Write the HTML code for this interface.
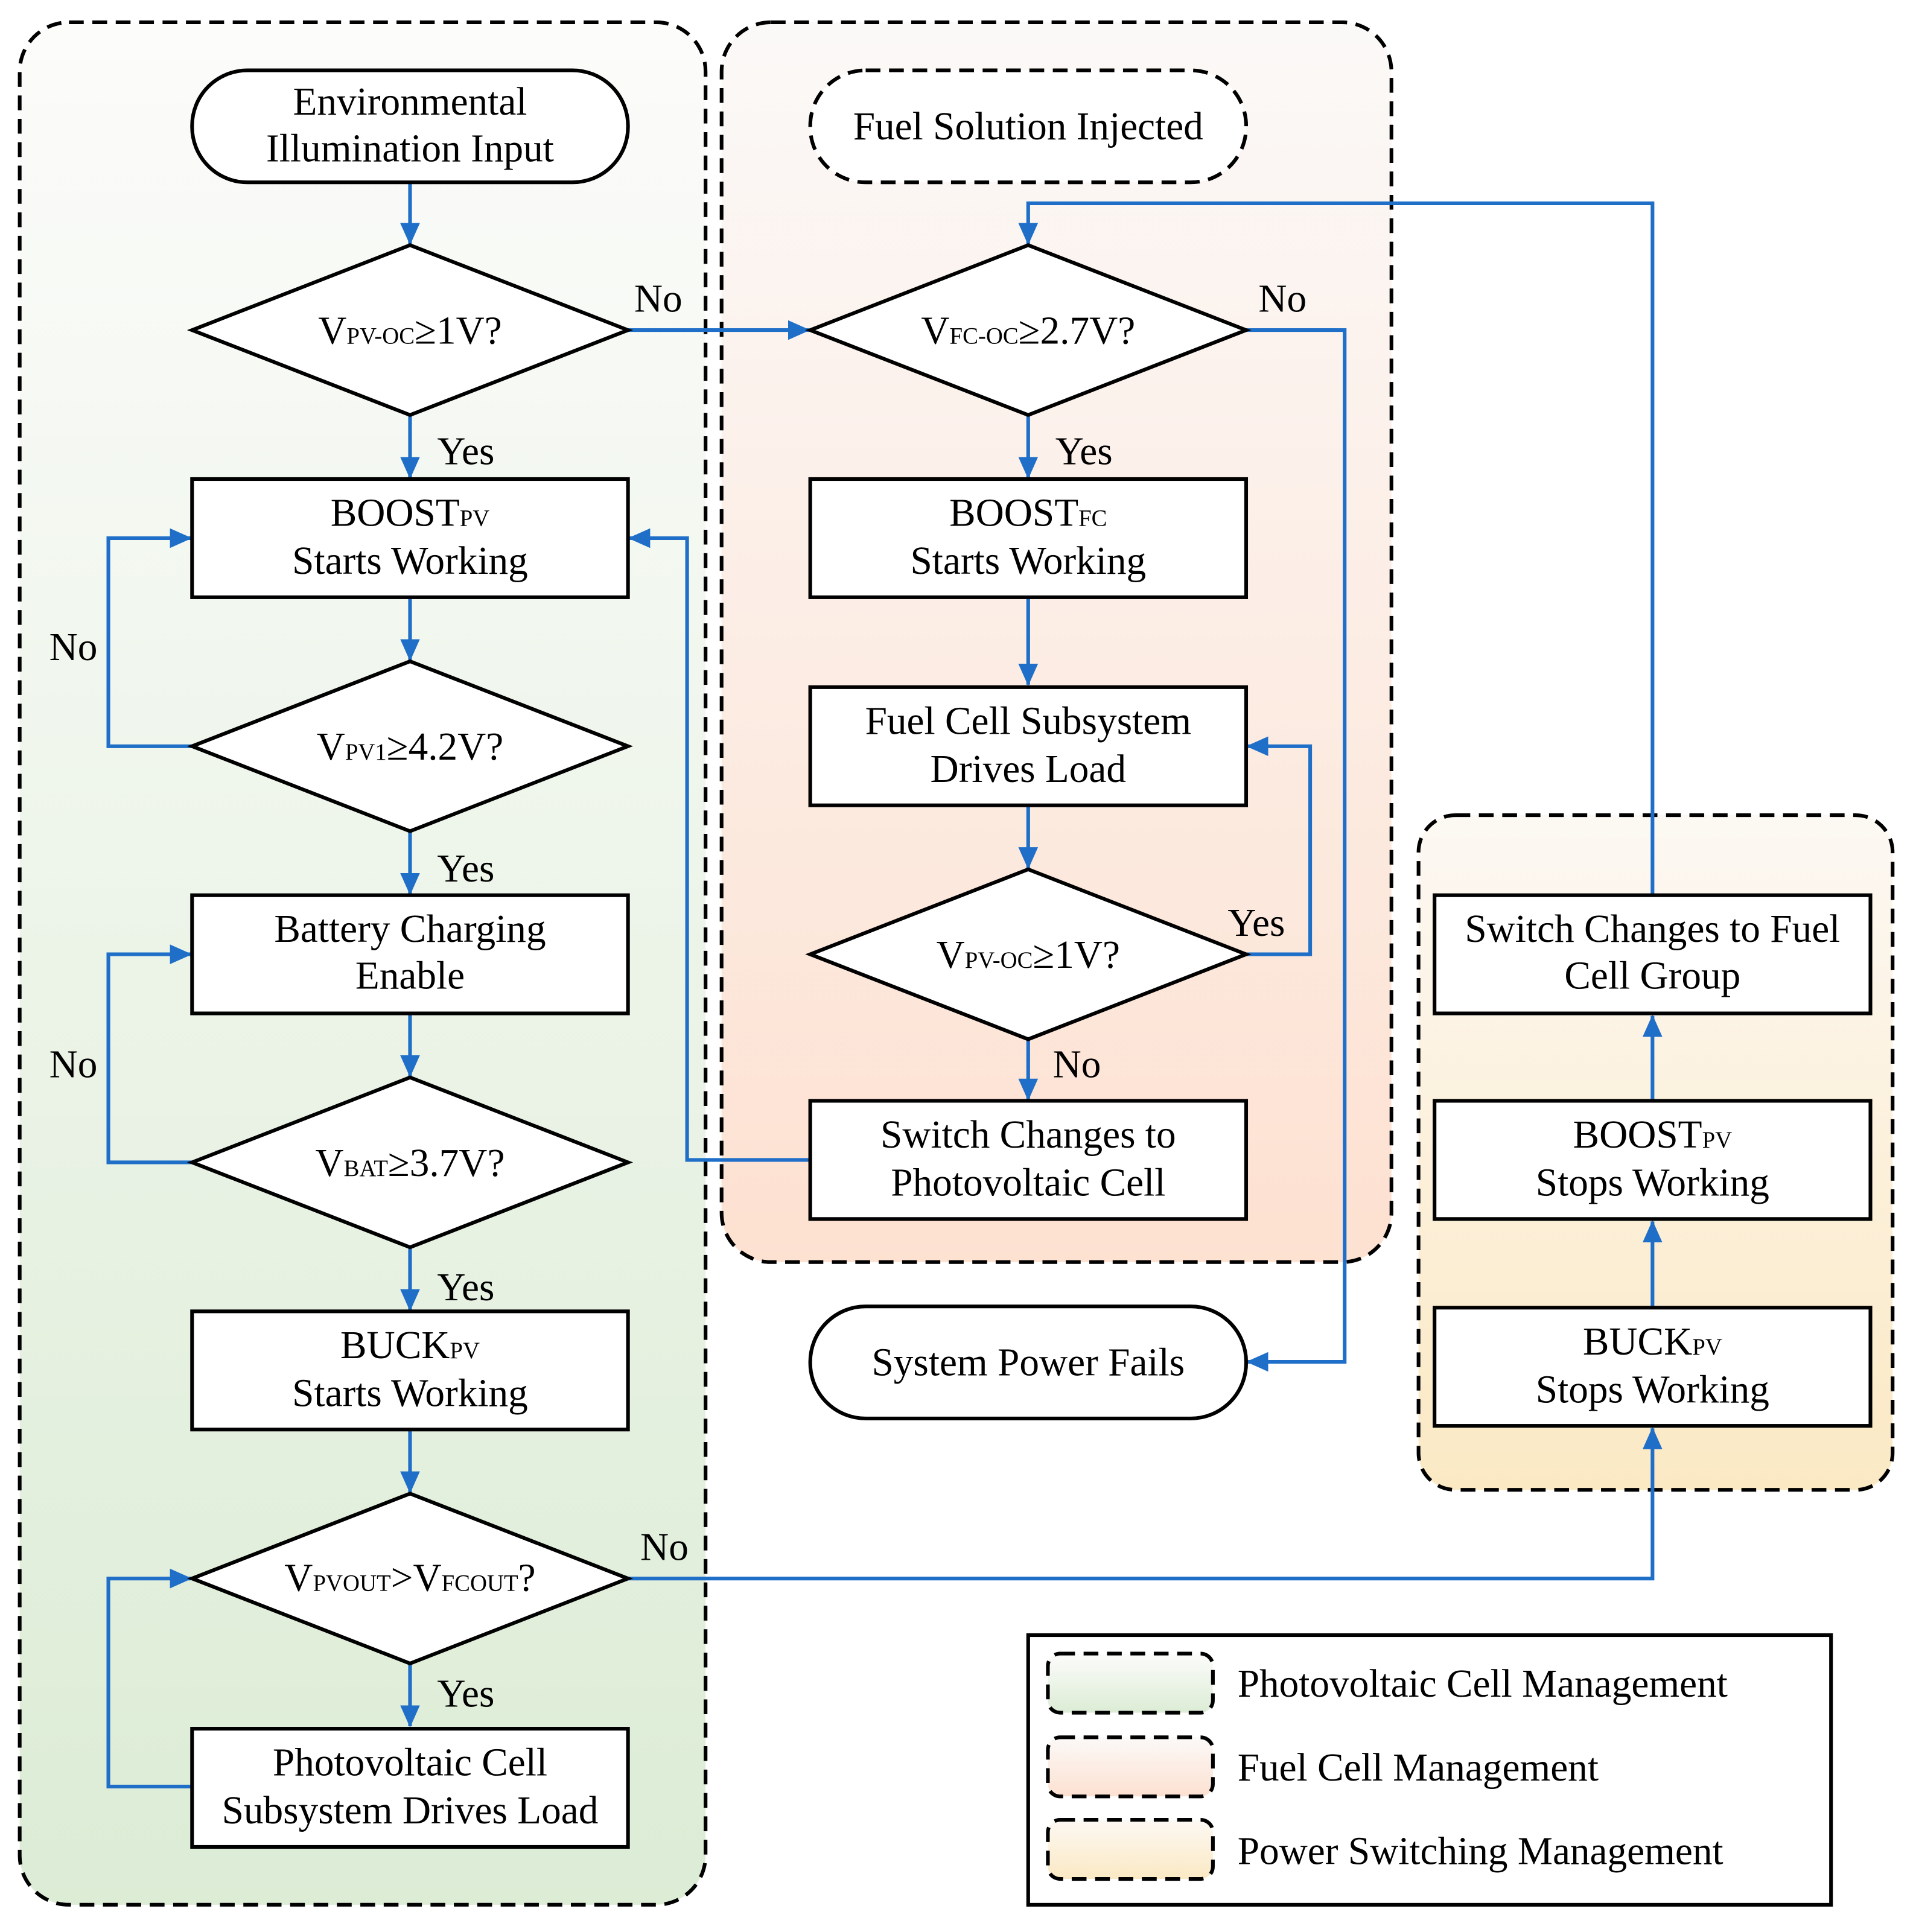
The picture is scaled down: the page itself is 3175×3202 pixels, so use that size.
<!DOCTYPE html>
<html><head><meta charset="utf-8"><style>html,body{margin:0;padding:0;background:#fff}svg{display:block}</style></head>
<body>
<svg width="3175" height="3202" viewBox="0 0 1556 1569" xmlns="http://www.w3.org/2000/svg" font-family="'Liberation Serif', serif" font-size="32">
<defs>
<linearGradient id="gG" x1="0" y1="0" x2="0" y2="1"><stop offset="0" stop-color="#fcfcfb"/><stop offset="1" stop-color="#dcecd5"/></linearGradient>
<linearGradient id="gO" x1="0" y1="0" x2="0" y2="1"><stop offset="0" stop-color="#fbf9f8"/><stop offset="1" stop-color="#fde1d1"/></linearGradient>
<linearGradient id="gY" x1="0" y1="0" x2="0" y2="1"><stop offset="0" stop-color="#fcf8f3"/><stop offset="1" stop-color="#fbe9c4"/></linearGradient>
<marker id="a" markerWidth="18" markerHeight="16" refX="17" refY="8" orient="auto" markerUnits="userSpaceOnUse" viewBox="0 0 18 16"><path d="M0,0 L18,8 L0,16 z" fill="#1f6fc8"/></marker>
</defs>
<style>
.p{stroke:#000;stroke-width:3;stroke-dasharray:12 7}
.s{fill:#fff;stroke:#000;stroke-width:3}
.c{fill:none;stroke:#1f6fc8;stroke-width:3;marker-end:url(#a)}
text{fill:#000}
.m{text-anchor:middle}
.sub{font-size:19px}
</style>
<rect x="16" y="18" width="557" height="1529" rx="40" fill="url(#gG)" class="p"/>
<rect x="586" y="18" width="544" height="1007" rx="40" fill="url(#gO)" class="p"/>
<rect x="1152" y="662" width="385" height="548" rx="30" fill="url(#gY)" class="p"/>

<path class="c" d="M333,148 V198"/>
<path class="c" d="M510,268 H657"/>
<path class="c" d="M333,337 V388"/>
<path class="c" d="M333,485 V536"/>
<path class="c" d="M156,606 H88 V437 H155"/>
<path class="c" d="M333,675 V726"/>
<path class="c" d="M333,823 V874"/>
<path class="c" d="M156,944 H88 V775 H155"/>
<path class="c" d="M333,1013 V1064"/>
<path class="c" d="M333,1161 V1212"/>
<path class="c" d="M333,1351 V1402"/>
<path class="c" d="M156,1451 H88 V1282 H155"/>
<path class="c" d="M510,1282 H1342 V1160"/>
<path class="c" d="M1342,1062 V992"/>
<path class="c" d="M1342,894 V825"/>
<path class="c" d="M1342,727 V165 H835 V198"/>
<path class="c" d="M1012,268 H1092 V1106 H1013"/>
<path class="c" d="M835,337 V388"/>
<path class="c" d="M835,485 V556"/>
<path class="c" d="M835,654 V705"/>
<path class="c" d="M1012,775 H1064 V606 H1013"/>
<path class="c" d="M835,844 V893"/>
<path class="c" d="M658,942 H558 V437 H511"/>

<rect x="156" y="57" width="354" height="91" rx="45" class="s"/>
<text x="333" y="93" class="m">Environmental</text>
<text x="333" y="131" class="m">Illumination Input</text>
<polygon points="156,268 333,199 510,268 333,337" class="s"/>
<text x="333" y="279" class="m">V<tspan class="sub">PV-OC</tspan>≥1V?</text>
<rect x="156" y="389" width="354" height="96" class="s"/>
<text x="333" y="427" class="m">BOOST<tspan class="sub">PV</tspan></text>
<text x="333" y="466" class="m">Starts Working</text>
<polygon points="156,606 333,537 510,606 333,675" class="s"/>
<text x="333" y="617" class="m">V<tspan class="sub">PV1</tspan>≥4.2V?</text>
<rect x="156" y="727" width="354" height="96" class="s"/>
<text x="333" y="765" class="m">Battery Charging</text>
<text x="333" y="803" class="m">Enable</text>
<polygon points="156,944 333,875 510,944 333,1013" class="s"/>
<text x="333" y="955" class="m">V<tspan class="sub">BAT</tspan>≥3.7V?</text>
<rect x="156" y="1065" width="354" height="96" class="s"/>
<text x="333" y="1103" class="m">BUCK<tspan class="sub">PV</tspan></text>
<text x="333" y="1142" class="m">Starts Working</text>
<polygon points="156,1282 333,1213 510,1282 333,1351" class="s"/>
<text x="333" y="1292" class="m">V<tspan class="sub">PVOUT</tspan>&gt;V<tspan class="sub">FCOUT</tspan>?</text>
<rect x="156" y="1404" width="354" height="96" class="s"/>
<text x="333" y="1442" class="m">Photovoltaic Cell</text>
<text x="333" y="1481" class="m">Subsystem Drives Load</text>

<rect x="658" y="57" width="354" height="91" rx="45" fill="#fff" stroke="#000" stroke-width="3" stroke-dasharray="12 7"/>
<text x="835" y="113" class="m">Fuel Solution Injected</text>
<polygon points="658,268 835,199 1012,268 835,337" class="s"/>
<text x="835" y="279" class="m">V<tspan class="sub">FC-OC</tspan>≥2.7V?</text>
<rect x="658" y="389" width="354" height="96" class="s"/>
<text x="835" y="427" class="m">BOOST<tspan class="sub">FC</tspan></text>
<text x="835" y="466" class="m">Starts Working</text>
<rect x="658" y="558" width="354" height="96" class="s"/>
<text x="835" y="596" class="m">Fuel Cell Subsystem</text>
<text x="835" y="635" class="m">Drives Load</text>
<polygon points="658,775 835,706 1012,775 835,844" class="s"/>
<text x="835" y="786" class="m">V<tspan class="sub">PV-OC</tspan>≥1V?</text>
<rect x="658" y="894" width="354" height="96" class="s"/>
<text x="835" y="932" class="m">Switch Changes to</text>
<text x="835" y="971" class="m">Photovoltaic Cell</text>
<rect x="658" y="1061" width="354" height="91" rx="45" class="s"/>
<text x="835" y="1117" class="m">System Power Fails</text>

<rect x="1165" y="727" width="354" height="96" class="s"/>
<text x="1342" y="765" class="m">Switch Changes to Fuel</text>
<text x="1342" y="803" class="m">Cell Group</text>
<rect x="1165" y="894" width="354" height="96" class="s"/>
<text x="1342" y="932" class="m">BOOST<tspan class="sub">PV</tspan></text>
<text x="1342" y="971" class="m">Stops Working</text>
<rect x="1165" y="1062" width="354" height="96" class="s"/>
<text x="1342" y="1100" class="m">BUCK<tspan class="sub">PV</tspan></text>
<text x="1342" y="1139" class="m">Stops Working</text>

<text x="515" y="253">No</text>
<text x="355" y="377">Yes</text>
<text x="40" y="536">No</text>
<text x="355" y="716">Yes</text>
<text x="40" y="875">No</text>
<text x="355" y="1056">Yes</text>
<text x="520" y="1267">No</text>
<text x="355" y="1386">Yes</text>
<text x="1022" y="253">No</text>
<text x="857" y="377">Yes</text>
<text x="997" y="760">Yes</text>
<text x="855" y="875">No</text>

<rect x="835" y="1328" width="652" height="219" fill="#fff" stroke="#000" stroke-width="3"/>
<rect x="851" y="1343" width="134" height="48" rx="10" fill="url(#gG)" class="p"/>
<rect x="851" y="1411" width="134" height="48" rx="10" fill="url(#gO)" class="p"/>
<rect x="851" y="1478" width="134" height="48" rx="10" fill="url(#gY)" class="p"/>
<text x="1005" y="1378">Photovoltaic Cell Management</text>
<text x="1005" y="1446">Fuel Cell Management</text>
<text x="1005" y="1514">Power Switching Management</text>
</svg>
</body></html>
